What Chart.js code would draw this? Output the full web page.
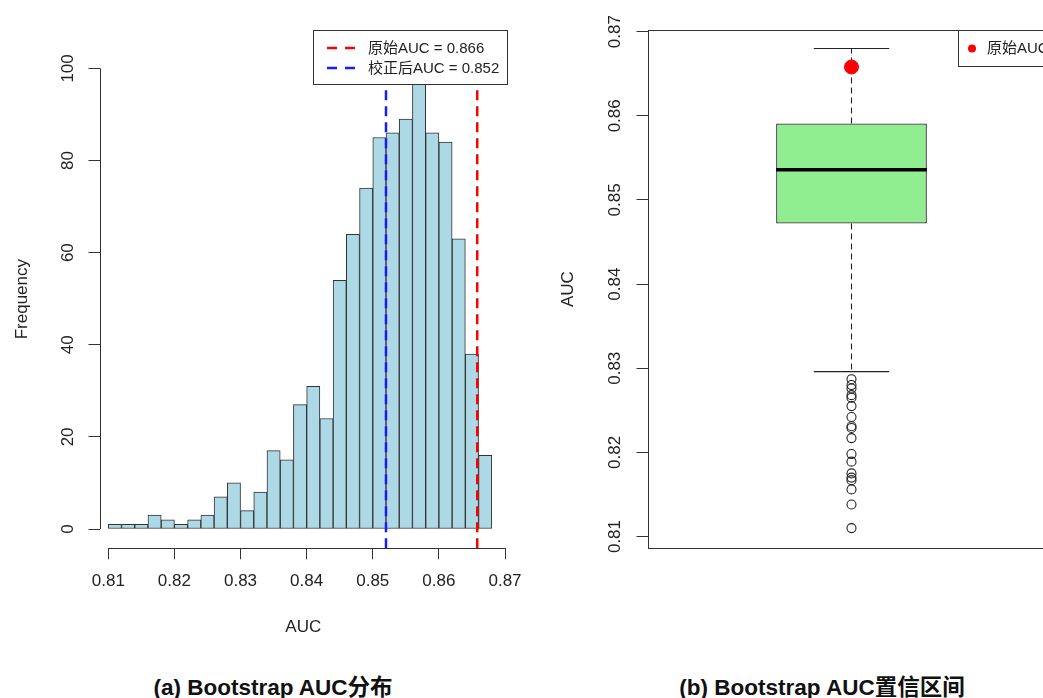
<!DOCTYPE html>
<html>
<head>
<meta charset="utf-8">
<script src="https://cdn.jsdelivr.net/npm/chart.js@4.4.1/dist/chart.umd.min.js"></script>
<style>
  html, body { margin: 0; padding: 0; background: #fff; overflow: hidden; width: 1043px; height: 698px; }
  #page { position: relative; width: 1043px; height: 698px; overflow: hidden; }
  #histBox { position: absolute; left: 0; top: 0; width: 540px; height: 650px; }
  #boxBox { position: absolute; left: 546px; top: 0; width: 540px; height: 600px; }
  .cap {
    position: absolute; top: 669px; height: 26px; line-height: 26px; white-space: nowrap;
    font: bold 22.5px "Liberation Sans", "Noto Sans CJK SC", sans-serif; color: #111;
    transform: translateX(-50%);
  }
</style>
</head>
<body>
<div id="page">
  <div id="histBox"><canvas id="histChart" width="540" height="650"></canvas></div>
  <div id="boxBox"><canvas id="boxChart" width="540" height="600"></canvas></div>
  <div class="cap" style="left:273px">(a) Bootstrap AUC分布</div>
  <div class="cap" style="left:822px">(b) Bootstrap AUC置信区间</div>
</div>
<script>
// ---- data ----
const binCenters = [0.811, 0.813, 0.815, 0.817, 0.819, 0.821, 0.823, 0.825, 0.827, 0.829,
                    0.831, 0.833, 0.835, 0.837, 0.839, 0.841, 0.843, 0.845, 0.847, 0.849,
                    0.851, 0.853, 0.855, 0.857, 0.859, 0.861, 0.863, 0.865, 0.867];
const counts = [1, 1, 1, 3, 2, 1, 2, 3, 7, 10,
                4, 8, 17, 15, 27, 31, 24, 54, 64, 74,
                85, 86, 89, 97, 86, 84, 63, 38, 16];
const origAUC = 0.8658;   // 原始AUC
const corrAUC = 0.8520;   // 校正后AUC

const freqTicks = [0, 20, 40, 60, 80, 100];
const aucTicks = [0.81, 0.82, 0.83, 0.84, 0.85, 0.86, 0.87];

// boxplot stats
const boxStats = { lo: 0.8296, q1: 0.8472, med: 0.8536, q3: 0.8591, hi: 0.8680 };
const outliers = [0.8287, 0.8280, 0.8276, 0.8268, 0.8265, 0.8255, 0.8242, 0.8231, 0.8229,
                  0.8217, 0.8198, 0.8189, 0.8175, 0.8170, 0.8167, 0.8156, 0.8138, 0.8110];

Chart.defaults.font.family = '"Liberation Sans", "Noto Sans CJK SC", sans-serif';
Chart.defaults.color = '#222';
Chart.defaults.animation = false;

const AXIS = '#333';
const fmt2 = v => Number(v).toFixed(2);

/* =========================
   R-style axis lines (only between first and last tick)
========================= */
const rAxes = {
  id: 'rAxes',
  afterDraw(chart, args, opts) {
    const { ctx, chartArea: a, scales } = chart;
    ctx.save();
    ctx.strokeStyle = AXIS;
    ctx.lineWidth = 1;
    if (opts.frame) {
      ctx.strokeRect(Math.round(a.left) + 0.5, Math.round(a.top) + 0.5,
                     Math.round(a.right - a.left), Math.round(a.bottom - a.top));
    } else {
      const y = scales.y, x = scales.x;
      const lx = Math.round(a.left) + 0.5;
      ctx.beginPath();
      ctx.moveTo(lx, y.getPixelForValue(freqTicks[0]));
      ctx.lineTo(lx, y.getPixelForValue(freqTicks[freqTicks.length - 1]));
      const by = Math.round(a.bottom) + 0.5;
      ctx.moveTo(x.getPixelForValue(aucTicks[0]), by);
      ctx.lineTo(x.getPixelForValue(aucTicks[aucTicks.length - 1]), by);
      ctx.stroke();
    }
    ctx.restore();
  }
};

/* =========================
   LEGENDS
========================= */
const histLegend = {
  id: 'histLegend',
  afterDatasetsDraw(chart) {
    const ctx = chart.ctx;
    ctx.save();
    ctx.fillStyle = '#fff';
    ctx.fillRect(313.5, 30.5, 194, 54);
    ctx.strokeStyle = AXIS;
    ctx.lineWidth = 1;
    ctx.strokeRect(313.5, 30.5, 194, 54);
    const rows = [
      { color: '#ff0000', label: `原始AUC = ${origAUC.toFixed(3)}`, y: 48 },
      { color: '#1a1aff', label: `校正后AUC = ${corrAUC.toFixed(3)}`, y: 68 }
    ];
    ctx.font = '15px "Liberation Sans", "Noto Sans CJK SC", sans-serif';
    ctx.textBaseline = 'middle';
    rows.forEach(r => {
      ctx.strokeStyle = r.color;
      ctx.lineWidth = 2.5;
      ctx.setLineDash([10, 8]);
      ctx.beginPath();
      ctx.moveTo(327, r.y);
      ctx.lineTo(356, r.y);
      ctx.stroke();
      ctx.setLineDash([]);
      ctx.fillStyle = '#222';
      ctx.fillText(r.label, 368, r.y + 1);
    });
    ctx.restore();
  }
};

const boxLegend = {
  id: 'boxLegend',
  afterDatasetsDraw(chart) {
    const ctx = chart.ctx;
    const ox = -546; // canvas offset on page
    ctx.save();
    ctx.fillStyle = '#fff';
    ctx.fillRect(958.5 + ox, 30.5, 180, 36);
    ctx.strokeStyle = AXIS;
    ctx.lineWidth = 1;
    ctx.strokeRect(958.5 + ox, 30.5, 180, 36);
    ctx.fillStyle = '#ff0000';
    ctx.beginPath();
    ctx.arc(972 + ox, 48.5, 4, 0, Math.PI * 2);
    ctx.fill();
    ctx.font = '15px "Liberation Sans", "Noto Sans CJK SC", sans-serif';
    ctx.textBaseline = 'middle';
    ctx.fillStyle = '#222';
    ctx.fillText('原始AUC', 987 + ox, 49);
    ctx.restore();
  }
};

const tickGrid = len => ({ display: true, offset: false, drawOnChartArea: false, drawTicks: true, tickLength: len, color: AXIS, lineWidth: 1 });

/* =========================
   (a) HISTOGRAM
========================= */
const yMin = -4.19, yMax = 104;
new Chart(document.getElementById('histChart'), {
  type: 'bar',
  data: {
    datasets: [
      {
        type: 'line',
        data: [{ x: origAUC, y: yMin }, { x: origAUC, y: yMax }],
        borderColor: '#ff0000', borderWidth: 2.5, borderDash: [10, 6],
        pointRadius: 0, order: 1
      },
      {
        type: 'line',
        data: [{ x: corrAUC, y: yMin }, { x: corrAUC, y: yMax }],
        borderColor: '#1a1aff', borderWidth: 2.5, borderDash: [10, 6],
        pointRadius: 0, order: 1
      },
      {
        type: 'bar',
        data: binCenters.map((c, i) => ({ x: c, y: counts[i] })),
        backgroundColor: '#add8e6',
        borderColor: '#333',
        borderWidth: 1,
        borderSkipped: false,
        barPercentage: 1,
        categoryPercentage: 1,
        order: 2
      }
    ]
  },
  options: {
    responsive: false,
    layout: { padding: { top: 50, right: 33, bottom: 0, left: 0 } },
    plugins: { legend: { display: false }, tooltip: { enabled: false }, rAxes: { frame: false } },
    scales: {
      x: {
        type: 'linear', offset: false, min: 0.80867, max: 0.8703,
        afterBuildTicks: s => { s.ticks = aucTicks.map(v => ({ value: v })); },
        afterFit: s => { s.height = 101.7; },
        grid: tickGrid(11),
        border: { display: false },
        ticks: { callback: fmt2, font: { size: 17 }, padding: 12, maxRotation: 0, autoSkip: false },
        title: { display: true, text: 'AUC', font: { size: 17 }, padding: { top: 0, bottom: 12.8 } }
      },
      y: {
        min: yMin, max: yMax,
        afterBuildTicks: s => { s.ticks = freqTicks.map(v => ({ value: v })); },
        afterFit: s => { s.width = 99.5; },
        grid: tickGrid(11),
        border: { display: false },
        ticks: { font: { size: 17 }, padding: 6.3, minRotation: 90, maxRotation: 90, crossAlign: 'center', autoSkip: false },
        title: { display: true, text: 'Frequency', font: { size: 17 }, padding: { top: 11.8, bottom: 0 } }
      }
    }
  },
  plugins: [rAxes, histLegend]
});

/* =========================
   (b) BOXPLOT
========================= */
const boxHalf = 0.2, capHalf = 0.1, xSpan = 1.08;
new Chart(document.getElementById('boxChart'), {
  type: 'bar',
  data: {
    datasets: [
      {
        type: 'scatter', data: [{ x: 1, y: origAUC }],
        pointRadius: 7, pointBackgroundColor: '#ff0000', pointBorderColor: '#ff0000', order: 0
      },
      {
        type: 'scatter', data: outliers.map(v => ({ x: 1, y: v })),
        pointRadius: 4.5, pointBackgroundColor: 'rgba(0,0,0,0)', pointBorderColor: '#222',
        pointBorderWidth: 1.1, order: 0
      },
      {
        type: 'line', data: [{ x: 1 - boxHalf, y: boxStats.med }, { x: 1 + boxHalf, y: boxStats.med }],
        borderColor: '#000', borderWidth: 3.5, pointRadius: 0, order: 1
      },
      {
        type: 'line', data: [{ x: 1 - capHalf, y: boxStats.hi }, { x: 1 + capHalf, y: boxStats.hi }],
        borderColor: '#222', borderWidth: 1.2, pointRadius: 0, order: 1
      },
      {
        type: 'line', data: [{ x: 1 - capHalf, y: boxStats.lo }, { x: 1 + capHalf, y: boxStats.lo }],
        borderColor: '#222', borderWidth: 1.2, pointRadius: 0, order: 1
      },
      {
        type: 'line', data: [{ x: 1, y: boxStats.q3 }, { x: 1, y: boxStats.hi }],
        borderColor: '#222', borderWidth: 1.1, borderDash: [6, 4], pointRadius: 0, order: 2
      },
      {
        type: 'line', data: [{ x: 1, y: boxStats.q1 }, { x: 1, y: boxStats.lo }],
        borderColor: '#222', borderWidth: 1.1, borderDash: [6, 4], pointRadius: 0, order: 2
      },
      {
        type: 'bar', data: [{ x: 1, y: [boxStats.q1, boxStats.q3] }],
        backgroundColor: '#90ee90', borderColor: '#333', borderWidth: 1.3, borderSkipped: false,
        barPercentage: (2 * boxHalf) / xSpan, categoryPercentage: 1, order: 3
      }
    ]
  },
  options: {
    responsive: false,
    layout: { padding: { top: 30, right: 31, bottom: 51.7, left: 0 } },
    plugins: { legend: { display: false }, tooltip: { enabled: false }, rAxes: { frame: true } },
    scales: {
      x: {
        type: 'linear', offset: false, display: false, min: 1 - xSpan / 2, max: 1 + xSpan / 2,
        afterBuildTicks: s => { s.ticks = [{ value: 1 }]; }
      },
      y: {
        min: 0.8086, max: 0.8702,
        afterBuildTicks: s => { s.ticks = aucTicks.map(v => ({ value: v })); },
        afterFit: s => { s.width = 102; },
        grid: tickGrid(11.5),
        border: { display: false },
        ticks: { callback: fmt2, font: { size: 17 }, padding: 5, minRotation: 90, maxRotation: 90, crossAlign: 'center', autoSkip: false },
        title: { display: true, text: 'AUC', font: { size: 17 }, padding: { top: 11.8, bottom: 0 } }
      }
    }
  },
  plugins: [rAxes, boxLegend]
});
</script>
</body>
</html>
